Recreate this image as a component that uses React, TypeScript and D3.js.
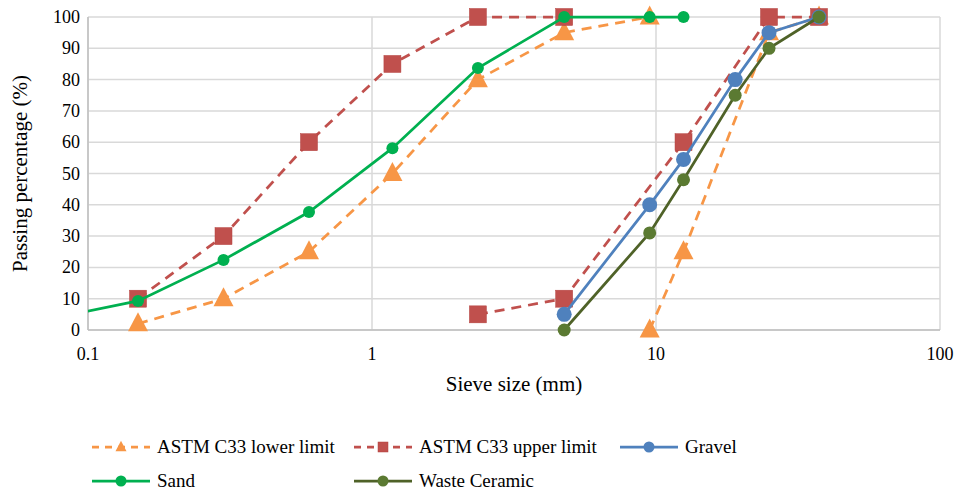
import React from 'react';
import * as d3 from 'd3';

// sieve sizes (mm) and passing percentages
const lowerFineSize = [0.15, 0.3, 0.6, 1.18, 2.36, 4.75, 9.5];
const lowerFine = [2, 10, 25, 50, 80, 95, 100];
const lowerCoarseSize = [9.5, 12.5, 25, 37.5];
const lowerCoarse = [0, 25, 95, 100];

const upperFineSize = [0.15, 0.3, 0.6, 1.18, 2.36, 4.75];
const upperFine = [10, 30, 60, 85, 100, 100];
const upperCoarseSize = [2.36, 4.75, 12.5, 25, 37.5];
const upperCoarse = [5, 10, 60, 100, 100];

const gravelSize = [4.75, 9.5, 12.5, 19, 25, 37.5];
const gravel = [5, 40, 54.5, 80, 95, 100];

const sandSize = [0.075, 0.15, 0.3, 0.6, 1.18, 2.36, 4.75, 9.5, 12.5];
const sand = [3.7, 9.3, 22.4, 37.7, 58.1, 83.7, 100, 100, 100];

const ceramicSize = [4.75, 9.5, 12.5, 19, 25, 37.5];
const ceramic = [0, 31, 48, 75, 90, 100];

const xTicks = [0.1, 1, 10, 100];
const yTicks = [0, 10, 20, 30, 40, 50, 60, 70, 80, 90, 100];

const W = 957;
const H = 493;
const left = 88, right = 940, top = 17, bottom = 330;

const ORANGE = '#F79646';
const RED = '#C0504D';
const BLUE = '#4F81BD';
const GREEN = '#00B050';
const OLIVE_LINE = '#4F6228';
const OLIVE = '#5B7A32';

type Pt = [number, number];
const zip = (xs: number[], ys: number[]): Pt[] => xs.map((x, i) => [x, ys[i]]);

const x = d3.scaleLog().domain([0.1, 100]).range([left, right]);
const y = d3.scaleLinear().domain([0, 100]).range([bottom, top]);
const line = d3.line<Pt>().x((d) => x(d[0])).y((d) => y(d[1]));

const Marker = ({ kind, cx, cy, color, size }: { kind: string; cx: number; cy: number; color: string; size: number }) => {
    if (kind === 'tri') {
        const h = size * 0.95;
        const p = `${cx},${cy - h * 0.6} ${cx + size / 2},${cy + h * 0.4} ${cx - size / 2},${cy + h * 0.4}`;
        return <polygon points={p} fill={color} />;
    }
    if (kind === 'sq') {
        return <rect x={cx - size / 2} y={cy - size / 2} width={size} height={size} fill={color} stroke="#b4413e" strokeWidth={0.5} />;
    }
    return <circle cx={cx} cy={cy} r={size / 2} fill={color} />;
};

const series = [
    { name: 'lower', parts: [zip(lowerFineSize, lowerFine), zip(lowerCoarseSize, lowerCoarse)], color: ORANGE, lineColor: ORANGE, dash: '10,7', kind: 'tri', size: 20 },
    { name: 'upper', parts: [zip(upperFineSize, upperFine), zip(upperCoarseSize, upperCoarse)], color: RED, lineColor: RED, dash: '10,7', kind: 'sq', size: 17 },
    { name: 'gravel', parts: [zip(gravelSize, gravel)], color: BLUE, lineColor: BLUE, dash: undefined, kind: 'circle', size: 15 },
    { name: 'sand', parts: [zip(sandSize, sand)], color: GREEN, lineColor: GREEN, dash: undefined, kind: 'circle', size: 12 },
    { name: 'ceramic', parts: [zip(ceramicSize, ceramic)], color: OLIVE, lineColor: OLIVE_LINE, dash: undefined, kind: 'circle', size: 13 },
];

const legendItems = [
    { label: 'ASTM C33 lower limit', color: ORANGE, dash: '7,6', kind: 'tri', size: 11, lx: 92, ly: 447 },
    { label: 'ASTM C33 upper limit', color: RED, dash: '7,6', kind: 'sq', size: 10, lx: 354, ly: 447 },
    { label: 'Gravel', color: BLUE, dash: undefined, kind: 'circle', size: 11, lx: 620, ly: 447 },
    { label: 'Sand', color: GREEN, dash: undefined, kind: 'circle', size: 11, lx: 92, ly: 481 },
    { label: 'Waste Ceramic', color: OLIVE, dash: undefined, kind: 'circle', size: 11, lx: 354, ly: 481 },
];

export default function App() {
    return (
        <div style={{ position: 'absolute', left: 0, top: 0, fontFamily: 'Times New Roman' }}>
            <svg width={W} height={H} style={{ fontFamily: 'Times New Roman' }}>
                <rect width={W} height={H} fill="#fff" />
                <defs>
                    <clipPath id="plot">
                        <rect x={left} y={0} width={right - left} height={H} />
                    </clipPath>
                </defs>
                {yTicks.map((t) => (
                    <g key={'y' + t}>
                        <line x1={left} x2={right} y1={y(t)} y2={y(t)} stroke="#d9d9d9" strokeWidth={1.5} />
                        <text x={left - 8} y={y(t) + 6} textAnchor="end" fontSize={18}>{t}</text>
                    </g>
                ))}
                {xTicks.map((t) => (
                    <g key={'x' + t}>
                        <line x1={x(t)} x2={x(t)} y1={top} y2={bottom} stroke="#d9d9d9" strokeWidth={1.5} />
                        <text x={x(t)} y={bottom + 30} textAnchor="middle" fontSize={18}>{t}</text>
                    </g>
                ))}
                <line x1={left} x2={right} y1={bottom} y2={bottom} stroke="#bfbfbf" strokeWidth={1.5} />
                <line x1={left} x2={left} y1={top} y2={bottom} stroke="#bfbfbf" strokeWidth={1.5} />

                <text x={514} y={391} textAnchor="middle" fontSize={21}>Sieve size (mm)</text>
                <text transform={`translate(27,${(top + bottom) / 2}) rotate(-90)`} textAnchor="middle" fontSize={21}>Passing percentage (%)</text>

                <g clipPath="url(#plot)">
                    {series.map((s) => (
                        <g key={s.name}>
                            {s.parts.map((p, i) => (
                                <path key={i} d={line(p) || ''} fill="none" stroke={s.lineColor} strokeWidth={2.75} strokeDasharray={s.dash} />
                            ))}
                            {s.parts.flat().map((p, i) => (
                                <Marker key={i} kind={s.kind} cx={x(p[0])} cy={y(p[1])} color={s.color} size={s.size} />
                            ))}
                        </g>
                    ))}
                </g>

                {legendItems.map((it) => (
                    <g key={it.label}>
                        <line x1={it.lx} x2={it.lx + 58} y1={it.ly} y2={it.ly} stroke={it.color === OLIVE ? OLIVE_LINE : it.color} strokeWidth={2.75} strokeDasharray={it.dash} />
                        <Marker kind={it.kind} cx={it.lx + 29} cy={it.ly} color={it.color} size={it.size} />
                        <text x={it.lx + 65} y={it.ly + 6} fontSize={19}>{it.label}</text>
                    </g>
                ))}
            </svg>
        </div>
    );
}
